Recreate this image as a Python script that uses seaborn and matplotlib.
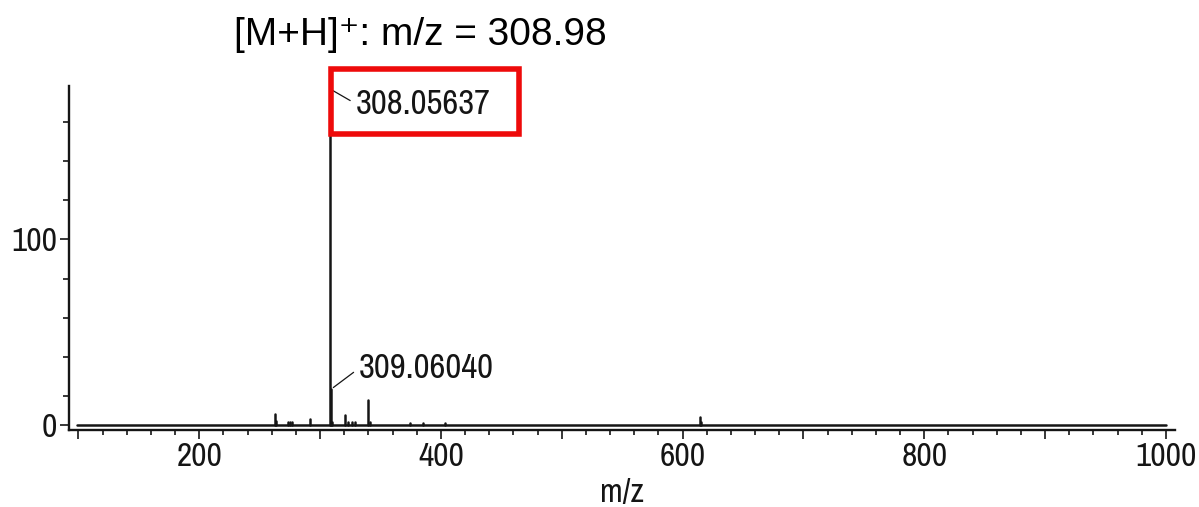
import matplotlib
matplotlib.use("Agg")
import matplotlib.pyplot as plt
from matplotlib.patches import Rectangle
from matplotlib.ticker import FixedLocator, MultipleLocator, NullFormatter
import numpy as np
import pandas as pd
import seaborn as sns

# Centroided ESI mass spectrum (m/z vs. intensity)
peak_mz = [262.5, 263.5, 273.0, 275.0, 277.0, 291.5, 308.05637, 309.06040, 310.0,
           320.5, 323.0, 326.0, 329.0, 339.5, 341.0, 374.0, 385.0, 403.0, 614.0, 615.5]
peak_int = [6.0, 2.5, 1.8, 1.8, 1.8, 3.4, 181.0, 19.5, 2.0,
            5.4, 2.0, 1.8, 1.8, 13.7, 2.0, 1.4, 1.4, 1.4, 4.7, 2.0]
scan_range = [99.0, 1000.0]

labelled_mz = [308.05637, 309.06040]
labelled_text = ["308.05637", "309.06040"]

x_labels = [200, 400, 600, 800, 1000]
y_labels = [0, 100]
y_minor = [16, 37, 58, 79, 121, 142, 163]

title_text = "[M+H]\u207a: m/z = 308.98"

sns.set_style("ticks")
plt.rcParams["font.family"] = ["Liberation Sans", "DejaVu Sans"]

narrow = ["Archivo Narrow", "DejaVu Sans"]
ink = "#151515"

# each stick is its own unit: (mz, 0) -> (mz, intensity)
rows = []
for i, (m, h) in enumerate(zip(peak_mz, peak_int)):
    rows.append({"mz": m, "intensity": 0.0, "unit": f"p{i}"})
    rows.append({"mz": m, "intensity": h, "unit": f"p{i}"})
for m in scan_range:
    rows.append({"mz": m, "intensity": 0.0, "unit": "base"})
sticks = pd.DataFrame(rows)

fig = plt.figure(figsize=(11.99, 5.07), dpi=100)
ax = fig.add_axes([0.0578, 0.1509, 0.9222, 0.6801])

sns.lineplot(data=sticks, x="mz", y="intensity", units="unit", estimator=None,
             color=ink, linewidth=1.8, sort=False, ax=ax, legend=False)

ax.set_xlim(92.4, 1007.5)
ax.set_ylim(-2.7, 182.7)

for side in ("top", "right"):
    ax.spines[side].set_visible(False)
for side in ("left", "bottom"):
    ax.spines[side].set_linewidth(1.7)
    ax.spines[side].set_color(ink)

ax.xaxis.set_major_locator(MultipleLocator(100))
ax.xaxis.set_minor_locator(MultipleLocator(20))
ax.set_xticks(ax.get_xticks())
ax.set_xticklabels([str(int(v)) if int(v) in x_labels else "" for v in ax.get_xticks()],
                   family=narrow, fontsize=24, color=ink)
ax.set_xlim(92.4, 1007.5)

ax.yaxis.set_major_locator(FixedLocator(y_labels))
ax.yaxis.set_minor_locator(FixedLocator(y_minor))
ax.set_yticks(y_labels)
ax.set_yticklabels([str(v) for v in y_labels], family=narrow, fontsize=24, color=ink)
ax.yaxis.set_minor_formatter(NullFormatter())

ax.tick_params(axis="x", which="major", length=6.5, width=1.2, pad=2, color=ink)
ax.tick_params(axis="x", which="minor", length=3.8, width=1.2, color=ink)
ax.tick_params(axis="y", which="major", length=6.5, width=1.2, pad=2, color=ink)
ax.tick_params(axis="y", which="minor", length=4.3, width=1.2, color=ink)

ax.set_ylabel("")
ax.set_xlabel("m/z", family=narrow, fontsize=24, color=ink, va="center")
ax.xaxis.set_label_coords(0.5, -0.181)

# peak annotations with leader lines
offsets = [(26, -15), (28, 21)]
for m, txt, off in zip(labelled_mz, labelled_text, offsets):
    h = peak_int[peak_mz.index(m)]
    ax.annotate(txt, xy=(m, h), xytext=off, textcoords="offset pixels",
                ha="left", va="center", family=narrow, fontsize=25, color=ink,
                annotation_clip=False,
                arrowprops=dict(arrowstyle="-", color=ink, lw=0.9,
                                shrinkA=2, shrinkB=2, relpos=(0, 0.5)))

# highlight frame around the base-peak label
fig.add_artist(Rectangle((0.2761, 0.7357), 0.1568, 0.1282, transform=fig.transFigure,
                         fill=False, edgecolor="#ee0a0a", linewidth=4.0, clip_on=False))

fig.text(0.351, 0.911, title_text, ha="center", va="baseline", fontsize=28, color="black")

fig.savefig("out.png", dpi=100)
